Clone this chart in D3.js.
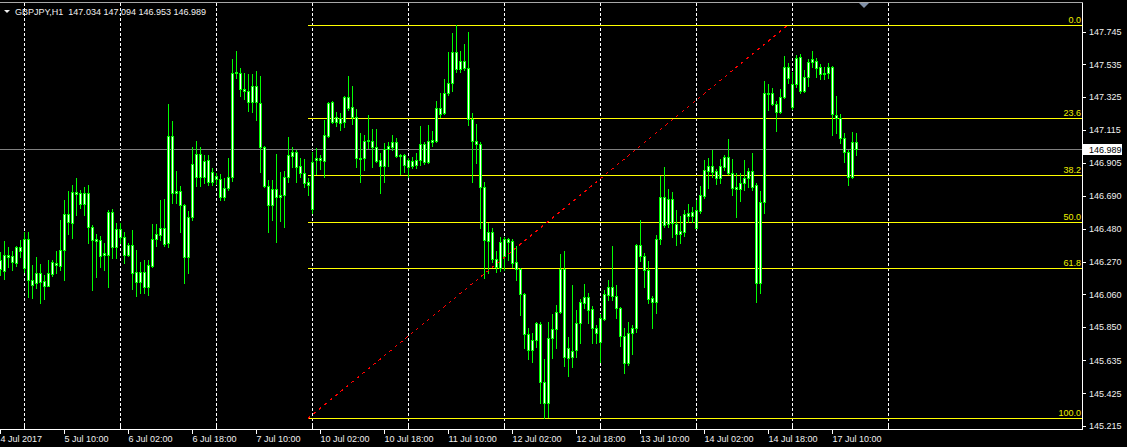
<!DOCTYPE html>
<html><head><meta charset="utf-8">
<script src="https://cdn.jsdelivr.net/npm/d3@7"></script>
<style>html,body{margin:0;padding:0;background:#000;overflow:hidden}svg{display:block}</style>
</head><body><svg id="c" width="1127" height="447"></svg>
<script>
// ---------- data ----------
const symbolTitle = "GBPJPY,H1\u00a0\u00a0147.034 147.094 146.953 146.989";
// hourly candles [open, high, low, close], 4 Jul 18:00 .. 17 Jul 16:00
const ohlc = [
[146.280,146.331,146.184,146.222],[146.210,146.402,146.158,146.312],[146.312,146.363,146.235,146.299],[146.306,146.338,146.216,146.267],
[146.261,146.370,146.242,146.363],[146.363,146.408,146.299,146.338],[146.229,146.459,146.203,146.415],[146.415,146.459,146.042,146.151],
[146.151,146.248,146.036,146.119],[146.132,146.299,146.100,146.197],[146.197,146.254,146.004,146.138],[146.145,146.184,146.029,146.113],
[146.113,146.280,146.110,146.197],[146.190,146.280,146.177,146.267],[146.261,146.338,146.197,146.248],[146.242,146.536,146.216,146.344],
[146.344,146.665,146.151,146.575],[146.575,146.723,146.447,146.524],[146.517,146.761,146.421,146.716],[146.716,146.806,146.568,146.703],
[146.710,146.729,146.613,146.639],[146.639,146.748,146.568,146.710],[146.710,146.761,146.389,146.491],[146.491,146.504,146.087,146.408],
[146.415,146.447,146.171,146.402],[146.408,146.434,146.235,146.306],[146.312,146.389,146.216,146.325],[146.312,146.601,146.106,146.588],
[146.588,146.607,146.293,146.363],[146.363,146.517,146.293,146.479],[146.479,146.517,146.389,146.427],[146.427,146.459,146.261,146.312],
[146.312,146.389,146.306,146.376],[146.376,146.472,146.094,146.197],[146.203,146.344,146.048,146.138],[146.138,146.267,146.068,146.203],
[146.203,146.280,146.068,146.106],[146.106,146.280,146.055,146.248],[146.242,146.511,146.235,146.415],[146.415,146.511,146.370,146.447],
[146.440,146.665,146.408,146.485],[146.485,146.671,146.370,146.383],[146.389,147.281,146.363,147.076],[147.076,147.172,146.645,146.710],
[146.710,146.851,146.645,146.723],[146.723,146.755,146.459,146.633],[146.633,146.640,146.132,146.299],[146.299,146.594,146.197,146.556],
[146.556,147.005,146.536,146.896],[146.960,147.043,146.755,146.812],[146.812,147.005,146.755,146.960],[146.915,146.954,146.774,146.812],
[146.780,146.954,146.761,146.921],[146.844,146.870,146.761,146.780],[146.799,146.838,146.767,146.819],[146.799,146.832,146.665,146.684],
[146.684,146.806,146.665,146.742],[146.742,146.934,146.729,146.812],[146.812,147.569,146.787,147.479],[147.479,147.621,147.448,147.486],
[147.479,147.512,147.332,147.377],[147.377,147.479,147.313,147.364],[147.364,147.473,147.236,147.294],[147.294,147.473,147.229,147.396],
[147.396,147.492,147.178,147.294],[147.287,147.460,146.844,147.005],[147.005,147.011,146.748,146.755],[146.755,146.793,146.459,146.633],
[146.633,146.793,146.536,146.735],[146.735,146.960,146.395,146.684],[146.684,146.844,146.530,146.697],[146.697,146.851,146.491,146.812],
[146.812,147.069,146.780,146.954],[146.947,147.005,146.876,146.973],[146.973,146.986,146.780,146.876],[146.883,146.934,146.812,146.838],
[146.838,146.928,146.748,146.774],[146.780,146.806,146.697,146.761],[146.607,146.973,146.581,146.909],[146.921,146.998,146.832,146.934],
[146.934,146.954,146.864,146.921],[146.915,147.178,146.812,147.082],[147.076,147.294,147.069,147.287],[147.294,147.300,147.159,147.165],
[147.165,147.229,147.140,147.197],[147.191,147.223,147.114,147.159],[147.165,147.332,147.133,147.326],[147.326,147.460,147.242,147.255],
[147.261,147.396,147.152,147.197],[147.197,147.249,146.876,146.934],[146.934,147.095,146.780,146.928],[146.934,147.082,146.857,147.043],
[147.043,147.210,146.998,147.050],[147.043,147.120,146.876,147.005],[147.005,147.120,146.909,146.915],[146.921,146.966,146.710,146.883],
[146.883,147.030,146.780,146.992],[146.992,147.037,146.883,147.011],[147.005,147.082,146.986,147.037],[147.037,147.063,146.941,146.947],
[146.947,146.960,146.832,146.954],[146.954,146.960,146.844,146.889],[146.876,146.934,146.812,146.921],[146.915,146.941,146.870,146.883],
[146.889,146.966,146.870,146.921],[146.921,147.140,146.889,147.024],[147.024,147.037,146.896,146.909],[146.909,147.146,146.902,147.043],
[147.037,147.107,147.011,147.050],[147.043,147.300,147.037,147.255],[147.255,147.351,147.197,147.217],[147.223,147.441,147.217,147.351],
[147.351,147.614,147.339,147.415],[147.415,147.736,147.364,147.614],[147.614,147.788,147.486,147.505],[147.505,147.621,147.486,147.557],
[147.557,147.666,147.499,147.512],[147.512,147.743,147.146,147.184],[147.184,147.223,146.780,147.043],[147.043,147.152,146.902,147.024],
[147.024,147.037,146.485,146.748],[146.748,146.780,146.164,146.408],[146.402,146.517,146.197,146.459],[146.459,146.485,146.267,146.286],
[146.286,146.338,146.203,146.235],[146.229,146.427,146.210,146.395],[146.415,146.427,146.216,146.306],[146.395,146.421,146.280,146.415],
[146.402,146.415,146.235,146.261],[146.267,146.370,146.151,146.222],[146.222,146.229,145.927,146.062],[146.062,146.068,145.715,145.805],
[145.805,145.843,145.645,145.702],[145.702,145.811,145.625,145.766],[145.766,145.882,145.721,145.876],[145.869,145.882,145.362,145.497],
[145.497,145.645,145.264,145.362],[145.362,145.882,145.272,145.779],[145.779,145.933,145.651,145.837],[145.837,145.991,145.715,145.946],
[145.946,146.318,145.940,146.222],[146.222,146.338,145.600,145.657],[145.651,145.786,145.536,145.715],[145.696,146.119,145.593,145.657],
[145.702,145.959,145.657,145.876],[145.876,146.029,145.747,146.010],[146.004,146.126,145.972,146.042],[146.042,146.068,145.876,145.959],
[145.965,145.985,145.747,145.843],[145.843,145.863,145.747,145.811],[145.754,145.933,145.625,145.908],[145.901,146.087,145.895,146.062],
[146.055,146.151,146.023,146.106],[146.106,146.370,146.023,146.048],[146.048,146.119,145.908,145.972],[145.972,145.978,145.728,145.792],
[145.792,145.843,145.555,145.619],[145.619,145.882,145.606,145.811],[145.811,145.863,145.677,145.843],[145.843,146.383,145.818,146.376],
[146.376,146.536,146.273,146.306],[146.306,146.325,146.106,146.216],[146.216,146.273,146.004,146.029],[146.036,146.048,145.843,146.010],
[146.010,146.440,145.940,146.415],[146.415,146.819,146.383,146.684],[146.684,146.876,146.491,146.504],[146.511,146.735,146.491,146.671],
[146.671,146.716,146.427,146.517],[146.511,146.601,146.376,146.447],[146.447,146.562,146.389,146.466],[146.459,146.601,146.434,146.575],
[146.562,146.639,146.524,146.581],[146.588,146.620,146.524,146.562],[146.485,146.665,146.485,146.601],[146.594,146.755,146.581,146.697],
[146.690,146.921,146.678,146.857],[146.851,146.934,146.742,146.883],[146.883,146.986,146.812,146.844],[146.851,146.864,146.767,146.806],
[146.806,146.928,146.774,146.883],[146.876,146.954,146.857,146.941],[146.941,147.056,146.832,146.838],[146.838,146.928,146.697,146.742],
[146.748,146.838,146.556,146.735],[146.735,146.838,146.658,146.774],[146.774,146.921,146.729,146.806],[146.806,146.870,146.748,146.851],
[146.851,146.966,146.729,146.748],[146.761,146.774,146.010,146.132],[146.132,146.723,146.068,146.652],[146.652,147.428,146.581,147.351],
[147.351,147.409,147.242,147.345],[147.351,147.383,147.274,147.281],[147.281,147.300,147.107,147.229],[147.229,147.377,147.223,147.326],
[147.326,147.589,147.319,147.518],[147.518,147.544,147.415,147.448],[147.261,147.486,147.249,147.409],[147.409,147.595,147.390,147.576],
[147.582,147.601,147.351,147.364],[147.364,147.499,147.358,147.454],[147.454,147.569,147.396,147.550],[147.550,147.621,147.518,147.569],
[147.557,147.576,147.454,147.512],[147.518,147.537,147.441,147.473],[147.473,147.518,147.441,147.479],[147.479,147.544,147.448,147.518],
[147.518,147.524,147.082,147.217],[147.210,147.332,147.095,147.191],[147.191,147.217,147.030,147.063],[147.063,147.095,146.909,146.973],
[146.973,146.986,146.761,146.812],[146.812,147.101,146.806,147.037],[147.034,147.094,146.953,146.989]
];
const timeLabels = ["4 Jul 2017","5 Jul 10:00","6 Jul 02:00","6 Jul 18:00","7 Jul 10:00","10 Jul 02:00","10 Jul 18:00",
  "11 Jul 10:00","12 Jul 02:00","12 Jul 18:00","13 Jul 10:00","14 Jul 02:00","14 Jul 18:00","17 Jul 10:00"];
const timeLabelBars = [0,16,32,48,64,80,96,112,128,144,160,176,192,208];
const dayStartBars = [6,30,54,78,102,126,150,174,198,222];
const priceTicks = [147.745,147.535,147.325,147.115,146.905,146.690,146.480,146.270,146.060,145.850,145.635,145.425,145.215];
const fibLevels = [0.0, 23.6, 38.2, 50.0, 61.8, 100.0];
const fibAnchorBars = [77, 197];
const fibPrices = [145.264, 147.788];
const lastPrice = 146.989;

// ---------- drawing ----------
const W = 1127, H = 447, plotRight = 1082, plotTop = 2, plotBottom = 429;
const svg = d3.select("#c");
svg.append("rect").attr("width", W).attr("height", H).attr("fill", "#000");

const x = d3.scaleLinear().domain([0, 270.5]).range([0, plotRight]);
const y = d3.scaleLinear().domain([145.215, 147.745]).range([425.95, 31.65]);
const font = "'Liberation Sans', Arial, sans-serif";

// vertical dashed grid at day starts
svg.append("g").selectAll("line").data(dayStartBars).join("line")
  .attr("x1", d => Math.round(x(d)) + 0.5).attr("x2", d => Math.round(x(d)) + 0.5)
  .attr("y1", plotTop + 1).attr("y2", plotBottom)
  .attr("stroke", "#ffffff").attr("stroke-width", 1).attr("stroke-dasharray", "3,2")
  .attr("shape-rendering", "crispEdges");

// current price line
svg.append("line").attr("x1", 0).attr("x2", plotRight)
  .attr("y1", Math.round(y(lastPrice)) + 0.5).attr("y2", Math.round(y(lastPrice)) + 0.5)
  .attr("stroke", "#808080").attr("shape-rendering", "crispEdges");

// fibonacci levels
const fx0 = x(fibAnchorBars[0]);
const fibY = lv => y(fibPrices[1] - (fibPrices[1] - fibPrices[0]) * lv / 100);
const fg = svg.append("g");
fg.selectAll("line").data(fibLevels).join("line")
  .attr("x1", fx0).attr("x2", plotRight)
  .attr("y1", d => Math.round(fibY(d)) + 0.5).attr("y2", d => Math.round(fibY(d)) + 0.5)
  .attr("stroke", "#ffff00").attr("shape-rendering", "crispEdges");
fg.selectAll("text").data(fibLevels).join("text")
  .attr("x", plotRight - 1).attr("y", d => Math.round(fibY(d)) - 2)
  .attr("text-anchor", "end").attr("fill", "#f0f000")
  .style("font", "9px " + font).text(d => d.toFixed(1));

// candles
const cg = svg.append("g");
const bars = cg.selectAll("g").data(ohlc).join("g");
bars.append("line")
  .attr("x1", (d, i) => Math.round(x(i)) + 0.5).attr("x2", (d, i) => Math.round(x(i)) + 0.5)
  .attr("y1", d => Math.round(y(d[1]))).attr("y2", d => Math.round(y(d[2])) + 1)
  .attr("stroke", "#00ff00").attr("shape-rendering", "crispEdges");
bars.append("rect")
  .attr("x", (d, i) => Math.round(x(i)) - 0.5)
  .attr("y", d => Math.round(y(Math.max(d[0], d[3]))) + 0.5)
  .attr("width", 2)
  .attr("height", d => Math.max(1, Math.round(y(Math.min(d[0], d[3]))) - Math.round(y(Math.max(d[0], d[3])))))
  .attr("fill", "#ffffff").attr("stroke", "#00ff00").attr("stroke-width", 1)
  .attr("shape-rendering", "crispEdges");

// fib trend line (red dotted)
svg.append("line")
  .attr("x1", x(fibAnchorBars[0])).attr("y1", y(fibPrices[0]))
  .attr("x2", x(fibAnchorBars[1])).attr("y2", y(fibPrices[1]))
  .attr("stroke", "#ff0000").attr("stroke-width", 1).attr("stroke-dasharray", "3,4")
  .attr("shape-rendering", "crispEdges");

// frame
svg.append("line").attr("x1", 0).attr("x2", plotRight + 1).attr("y1", plotTop + 0.5).attr("y2", plotTop + 0.5)
  .attr("stroke", "#a8a8a8").attr("shape-rendering", "crispEdges");
svg.append("line").attr("x1", plotRight + 0.5).attr("x2", plotRight + 0.5).attr("y1", plotTop + 1).attr("y2", plotBottom + 1)
  .attr("stroke", "#ffffff").attr("shape-rendering", "crispEdges");
svg.append("line").attr("x1", 0).attr("x2", plotRight + 1).attr("y1", plotBottom + 0.5).attr("y2", plotBottom + 0.5)
  .attr("stroke", "#ffffff").attr("shape-rendering", "crispEdges");

// right price axis
const ya = svg.append("g").attr("transform", `translate(${plotRight + 1},0)`)
  .call(d3.axisRight(y).tickValues(priceTicks).tickSize(3).tickPadding(3).tickFormat(d3.format(".3f")));
ya.select(".domain").remove();
ya.selectAll(".tick line").attr("stroke", "#ffffff").attr("shape-rendering", "crispEdges");
ya.selectAll(".tick text").attr("fill", "#f0f0f0").style("font", "9px " + font);

// last price label
const ly = Math.round(y(lastPrice));
svg.append("rect").attr("x", plotRight + 1).attr("y", ly - 5).attr("width", 39).attr("height", 11).attr("fill", "#ffffff");
svg.append("text").attr("x", plotRight + 7).attr("y", ly + 3.5).attr("fill", "#000")
  .style("font", "9px " + font).text(d3.format(".3f")(lastPrice));

// bottom time axis
const xa = svg.append("g").attr("transform", `translate(0,${plotBottom + 1})`)
  .call(d3.axisBottom(x).tickValues(timeLabelBars).tickSize(4).tickPadding(2)
    .tickFormat((d, i) => timeLabels[i]));
xa.select(".domain").remove();
xa.selectAll(".tick line").attr("stroke", "#ffffff").attr("shape-rendering", "crispEdges");
xa.selectAll(".tick text").attr("fill", "#f0f0f0").attr("text-anchor", "start").attr("dx", "0")
  .style("font", "9px " + font);
// day separator ticks above axis
svg.append("g").selectAll("line").data(dayStartBars).join("line")
  .attr("x1", d => Math.round(x(d)) + 0.5).attr("x2", d => Math.round(x(d)) + 0.5)
  .attr("y1", plotBottom - 3).attr("y2", plotBottom)
  .attr("stroke", "#ffffff").attr("shape-rendering", "crispEdges");

// title
svg.append("path").attr("d", "M4,10 L10,10 L7,13 Z").attr("fill", "#f0f0f0");
svg.append("text").attr("x", 15).attr("y", 15).attr("fill", "#f0f0f0")
  .style("font", "9px " + font).text(symbolTitle);
// chart shift marker
svg.append("path").attr("d", "M859,3 L869,3 L864,8 Z").attr("fill", "#8090a8");
</script></body></html>
